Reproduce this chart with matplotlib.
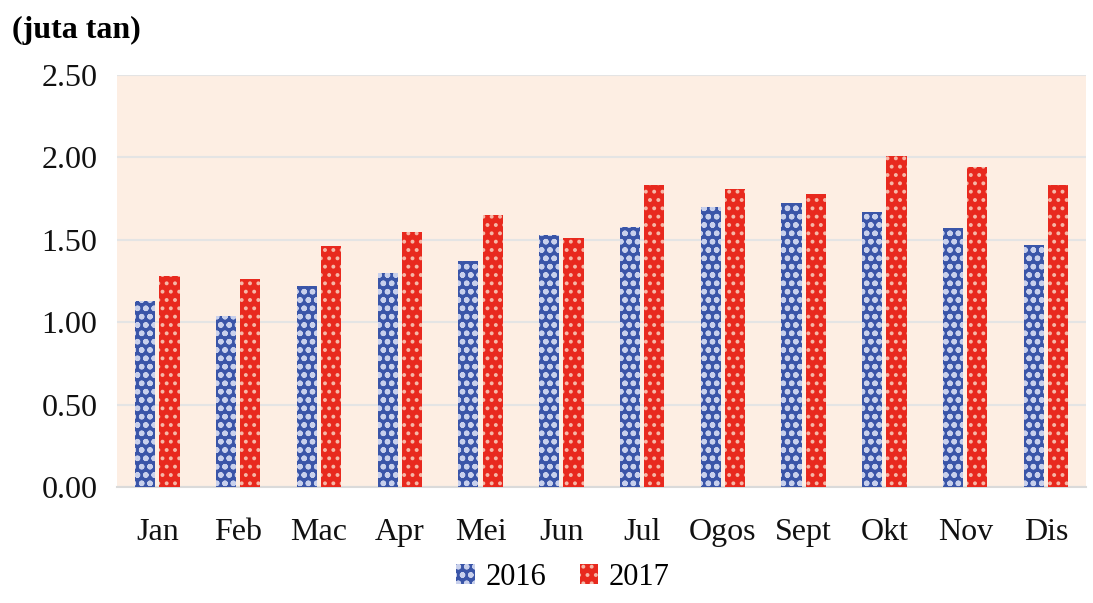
import numpy as np
import matplotlib
matplotlib.use('Agg')
import matplotlib.pyplot as plt

# Monthly values (juta tan)
months = ['Jan', 'Feb', 'Mac', 'Apr', 'Mei', 'Jun', 'Jul', 'Ogos', 'Sept', 'Okt', 'Nov', 'Dis']
val_2016 = [1.13, 1.04, 1.22, 1.30, 1.37, 1.53, 1.58, 1.70, 1.72, 1.67, 1.57, 1.47]
val_2017 = [1.28, 1.26, 1.46, 1.55, 1.65, 1.51, 1.83, 1.81, 1.78, 2.01, 1.94, 1.83]
yticks = [0.0, 0.5, 1.0, 1.5, 2.0, 2.5]

plt.rcParams['font.family'] = ['Liberation Serif', 'DejaVu Serif']
plt.rcParams['hatch.linewidth'] = 1.6

fig = plt.figure(figsize=(10.93, 6.03), dpi=100)
ax = fig.add_axes([0.107, 0.192, 0.887, 0.684])
ax.set_facecolor('#FDEEE3')

x = np.arange(len(months))
w = 0.25
b1 = ax.bar(x - w / 2 - 0.025, val_2016, w, color='#3A55A8', edgecolor='#C8D0EC',
            linewidth=0, hatch='oo', label='2016', zorder=3)
b2 = ax.bar(x + w / 2 + 0.025, val_2017, w, color='#E8291E', edgecolor='#F6B8A8',
            linewidth=0, hatch='..', label='2017', zorder=3)

ax.set_xlim(-0.5, len(months) - 0.5)
ax.set_ylim(0, 2.5)
ax.set_yticks(yticks)
ax.set_yticklabels([f'{v:.2f}' for v in yticks])
ax.set_xticks(x)
ax.set_xticklabels(months)
ax.tick_params(axis='both', length=0, labelsize=23, colors='#111111')
ax.tick_params(axis='y', pad=14)
ax.tick_params(axis='x', pad=22)
ax.yaxis.grid(True, color='#E4E4E4', linewidth=1.5, zorder=0)
ax.set_axisbelow(True)
for side in ['top', 'right', 'left']:
    ax.spines[side].set_visible(False)
ax.spines['bottom'].set_color('#DADADA')
ax.spines['bottom'].set_linewidth(1.5)

fig.text(0.011, 0.95, '(juta tan)', fontsize=23, fontweight='bold', ha='left', va='center')

fig.legend(handles=[b1, b2], loc='center', bbox_to_anchor=(0.515, 0.043), ncol=2,
           frameon=False, fontsize=22, handlelength=0.6, handleheight=0.6,
           handletextpad=0.35, columnspacing=1.1)

fig.savefig('out.png', dpi=100)
